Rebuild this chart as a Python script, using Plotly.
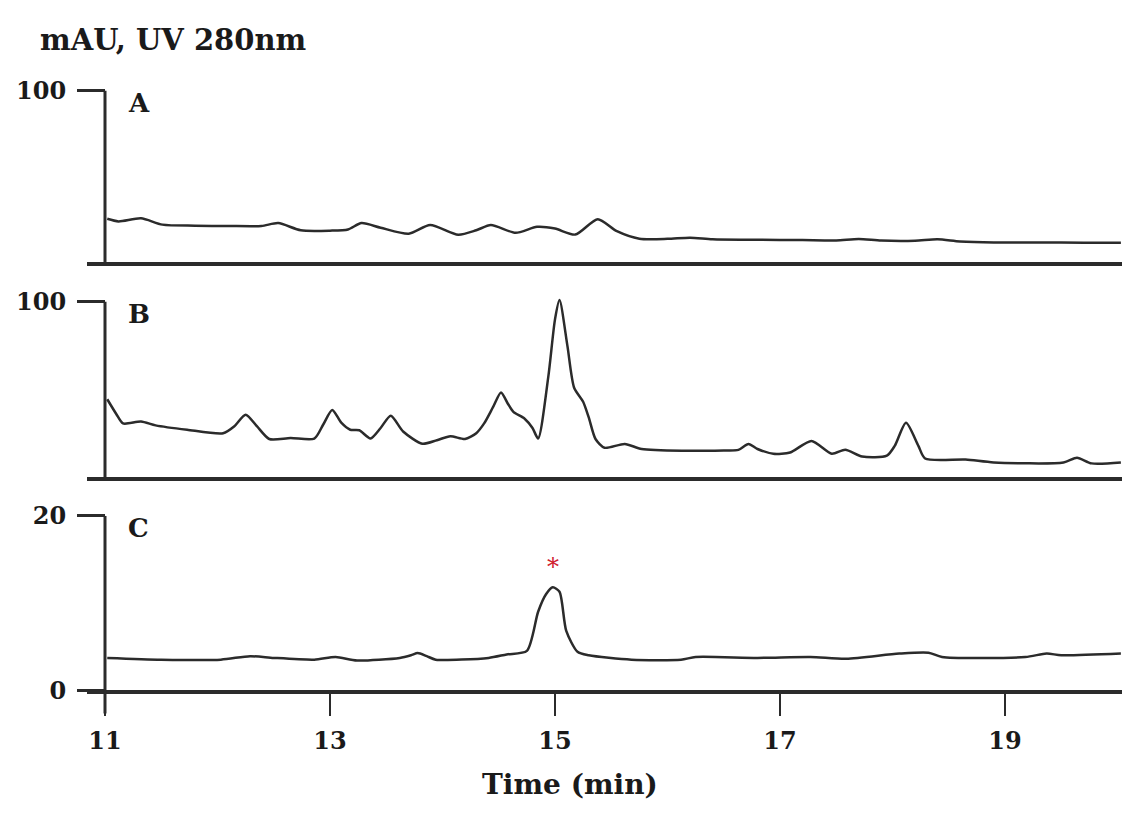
import plotly.graph_objects as go

# ---------------- data ----------------
title_text = "mAU, UV 280nm"
panel_labels = ["A", "B", "C"]
x_ticks = [11, 13, 15, 17, 19]
x_title = "Time (min)"

tA = [11.02, 11.12, 11.32, 11.51, 11.8, 12.1, 12.39, 12.54, 12.74, 13.0, 13.16, 13.28, 13.45,
      13.70, 13.89, 14.14, 14.3, 14.43, 14.65, 14.84, 15.0, 15.18, 15.38, 15.55, 15.75, 16.0,
      16.2, 16.4, 16.8, 17.2, 17.5, 17.7, 17.9, 18.2, 18.4, 18.6, 18.9, 19.3, 19.7, 20.03]
vA = [25.2, 23.7, 25.5, 21.8, 21.2, 21.0, 21.0, 22.7, 18.5, 18.3, 19.0, 22.7, 20.0,
      16.5, 21.6, 15.9, 18.5, 21.6, 17.0, 20.5, 19.5, 16.0, 25.0, 18.0, 13.6, 13.5,
      14.2, 13.3, 13.0, 12.8, 12.6, 13.4, 12.5, 12.4, 13.2, 12.0, 11.4, 11.4, 11.2, 11.2]

tB = [11.02, 11.1, 11.16, 11.32, 11.45, 11.73, 12.05, 12.15, 12.25, 12.35, 12.46, 12.65,
      12.86, 12.94, 13.02, 13.1, 13.18, 13.26, 13.36, 13.45, 13.54, 13.65, 13.82, 13.95,
      14.07, 14.2, 14.3, 14.37, 14.45, 14.52, 14.58, 14.63, 14.73, 14.80, 14.85, 14.94,
      15.0, 15.04, 15.11, 15.17, 15.25, 15.30, 15.36, 15.44, 15.62, 15.77, 16.14, 16.5,
      16.63, 16.72, 16.8, 16.94, 17.09, 17.28, 17.46, 17.58, 17.73, 17.95, 18.02, 18.12,
      18.23, 18.29, 18.65, 18.9, 19.52, 19.64, 19.77, 20.03]
vB = [44.4, 36.0, 30.6, 31.7, 29.5, 27.0, 25.0, 29.0, 35.6, 29.0, 21.7, 22.3,
      21.9, 30.0, 38.3, 31.0, 27.0, 26.7, 22.0, 28.0, 35.0, 26.0, 19.0, 21.0,
      23.3, 21.7, 25.0, 30.6, 40.0, 48.3, 42.0, 37.2, 33.3, 28.0, 22.0, 57.0,
      90.0, 101.0, 75.0, 51.0, 43.0, 34.0, 21.7, 16.7, 18.9, 16.0, 15.0, 15.2,
      15.5, 18.9, 16.0, 13.3, 14.0, 20.6, 13.3, 15.6, 11.7, 12.2, 17.8, 31.0,
      17.8, 10.6, 10.0, 8.3, 8.3, 11.0, 7.8, 8.3]

tC = [11.02, 11.5, 12.03, 12.29, 12.5, 12.86, 13.05, 13.24, 13.62, 13.72, 13.78, 13.86,
      13.94, 14.41, 14.57, 14.75, 14.85, 14.92, 14.98, 15.04, 15.1, 15.2, 15.3, 15.68,
      16.12, 16.25, 16.8, 17.27, 17.59, 18.06, 18.32, 18.44, 19.18, 19.37, 19.5, 20.03]
vC = [3.7, 3.5, 3.5, 3.9, 3.7, 3.5, 3.8, 3.4, 3.7, 4.0, 4.25, 3.9,
      3.5, 3.7, 4.1, 4.5, 9.0, 11.0, 11.8, 11.3, 6.8, 4.4, 4.0, 3.5,
      3.5, 3.8, 3.7, 3.8, 3.6, 4.2, 4.3, 3.8, 3.8, 4.2, 4.0, 4.2]

star_t, star_v = 14.98, 14.1

y_tops = [100, 100, 20]       # labelled top tick of each panel
y_tickvals = [[100], [100], [0, 20]]

# ---------------- layout geometry (pixels) ----------------
W, H = 1122, 817
ML = 87
x_range = [10.84, 20.04]
yaxis_px = 105
# (bottom pixel, top-tick pixel) per panel
panel_px = [(261, 85), (482, 302), (701, 522)]
range_pad = 1.04

ink = "#2b2b2b"
font_family = "DejaVu Serif"

fig = go.Figure()
series = [(tA, vA), (tB, vB), (tC, vC)]
for i, (t, v) in enumerate(series):
    sfx = "" if i == 0 else str(i + 1)
    fig.add_trace(go.Scatter(x=t, y=v, mode="lines", xaxis="x" + sfx, yaxis="y" + sfx,
                             line=dict(color=ink, width=2.5, shape="spline", smoothing=0.7),
                             showlegend=False, hoverinfo="skip"))

layout = dict(width=W, height=H, margin=dict(l=ML, r=0, t=0, b=0),
              paper_bgcolor="white", plot_bgcolor="white", showlegend=False,
              font=dict(family=font_family, color="#1a1a1a"))

ypos = (yaxis_px - ML) / (W - ML)
shapes = []
annotations = []
for i in range(3):
    sfx = "" if i == 0 else str(i + 1)
    bot, top = panel_px[i]
    ppu = (bot - top) / y_tops[i]
    rmax = y_tops[i] * range_pad
    top_px = bot - rmax * ppu
    dom = [1 - bot / H, 1 - top_px / H]
    last = (i == 2)
    layout["xaxis" + sfx] = dict(
        range=x_range, anchor="y" + sfx, domain=[0, 1],
        showline=True, linecolor=ink, linewidth=3.5, showgrid=False, zeroline=False,
        ticks="outside" if last else "", tickvals=x_ticks if last else [],
        ticklen=22, tickwidth=2, tickcolor=ink,
        showticklabels=last, ticklabelstandoff=4,
        tickfont=dict(family=font_family, size=24, color="#1a1a1a", weight="bold"),
    )
    layout["yaxis" + sfx] = dict(
        range=[0, rmax], domain=dom, anchor="free", position=ypos,
        showline=False, showgrid=False, zeroline=False,
        ticks="outside", tickvals=y_tickvals[i], ticklen=28, tickwidth=3, tickcolor=ink,
        ticklabelstandoff=6,
        tickfont=dict(family=font_family, size=24, color="#1a1a1a", weight="bold"),
    )
    shapes.append(dict(type="line", xref="x" + sfx, yref="y" + sfx,
                       x0=11, x1=11, y0=0, y1=y_tops[i],
                       line=dict(color=ink, width=3)))
    annotations.append(dict(text="<b>%s</b>" % panel_labels[i], xref="paper", yref="y" + sfx,
                            x=(126 - ML) / (W - ML), y=y_tops[i] * 0.93,
                            xanchor="left", yanchor="middle", showarrow=False,
                            font=dict(family=font_family, size=26, color="#1a1a1a")))

# extend the first y-axis line below the C axis (as in the reference)
shapes.append(dict(type="line", xref="x3", yref="paper", x0=11, x1=11,
                   y0=1 - 725 / H, y1=1 - 701 / H, line=dict(color=ink, width=3)))

annotations.append(dict(text="<b>%s</b>" % title_text, xref="paper", yref="paper",
                        x=(38 - ML) / (W - ML), y=1 - 33 / H, xanchor="left", yanchor="middle",
                        showarrow=False, font=dict(family=font_family, size=29, color="#1a1a1a")))
annotations.append(dict(text="<b>%s</b>" % x_title, xref="paper", yref="paper",
                        x=(570 - ML) / (W - ML), y=1 - 798 / H, xanchor="center", yanchor="middle",
                        showarrow=False, font=dict(family=font_family, size=28, color="#1a1a1a")))
annotations.append(dict(text="*", xref="x3", yref="y3", x=star_t, y=star_v,
                        xanchor="center", yanchor="middle", showarrow=False,
                        font=dict(family=font_family, size=24, color="#d0202e")))

layout["shapes"] = shapes
layout["annotations"] = annotations
fig.update_layout(**layout)
fig.write_html("out.html", config={"displayModeBar": False},
               post_script="document.body.style.margin='0px';")
